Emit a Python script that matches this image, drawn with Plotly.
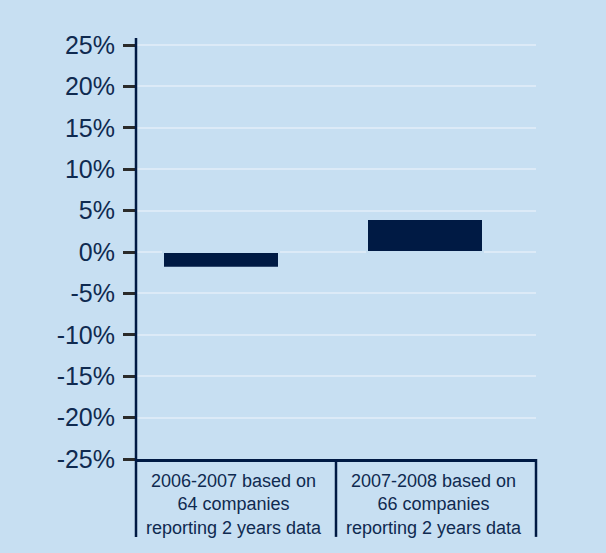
import plotly.graph_objects as go

categories = ["2006-2007 based on<br>64 companies<br>reporting 2 years data",
              "2007-2008 based on<br>66 companies<br>reporting 2 years data"]
values = [-1.9, 4.0]
tick_vals = [-25, -20, -15, -10, -5, 0, 5, 10, 15, 20, 25]
tick_text = [f"{v}%" for v in tick_vals]

BG = "#c7dff2"
NAVY = "#001a44"
TEXT = "#0f2a50"

fig = go.Figure()
fig.add_trace(go.Bar(
    x=[0, 1], y=values, width=0.58, offset=[-0.365, -0.345],
    marker=dict(color=NAVY, line=dict(color=BG, width=2)),
    hoverinfo="skip",
))

shapes = []
for xp in [0.0, 0.5, 1.0]:
    shapes.append(dict(type="line", xref="paper", yref="paper",
                       x0=xp, x1=xp, y0=-0.185, y1=0 if xp > 0 else 1.0,
                       line=dict(color=NAVY, width=2.5)))

annotations = []
for i, c in enumerate(categories):
    annotations.append(dict(x=i - 0.01, y=-0.108, xref="x", yref="paper",
                            text=c, showarrow=False, xanchor="center", yanchor="middle",
                            font=dict(family="Liberation Sans, Arial", size=18, color=TEXT)))

fig.update_layout(
    width=606, height=553,
    margin=dict(l=136, r=70, t=38, b=94),
    paper_bgcolor=BG, plot_bgcolor=BG,
    showlegend=False,
    shapes=shapes, annotations=annotations,
    xaxis=dict(range=[-0.5, 1.5], showticklabels=False, showgrid=False, zeroline=False,
               showline=True, linecolor=NAVY, linewidth=2.5, ticks=""),
    yaxis=dict(range=[-25, 25.85], tickvals=tick_vals, ticktext=tick_text,
               showgrid=True, gridcolor="#dceaf7", gridwidth=2, zeroline=False,
               showline=False, ticks="outside", ticklen=12, tickwidth=2.5, tickcolor="#2b2b2b",
               ticklabelstandoff=3,
               tickfont=dict(family="Liberation Sans, Arial", size=25, color=TEXT)),
)
fig.write_html("out.html", config={"displayModeBar": False},
               post_script="document.body.style.margin='0';document.body.style.background='%s';" % BG)
